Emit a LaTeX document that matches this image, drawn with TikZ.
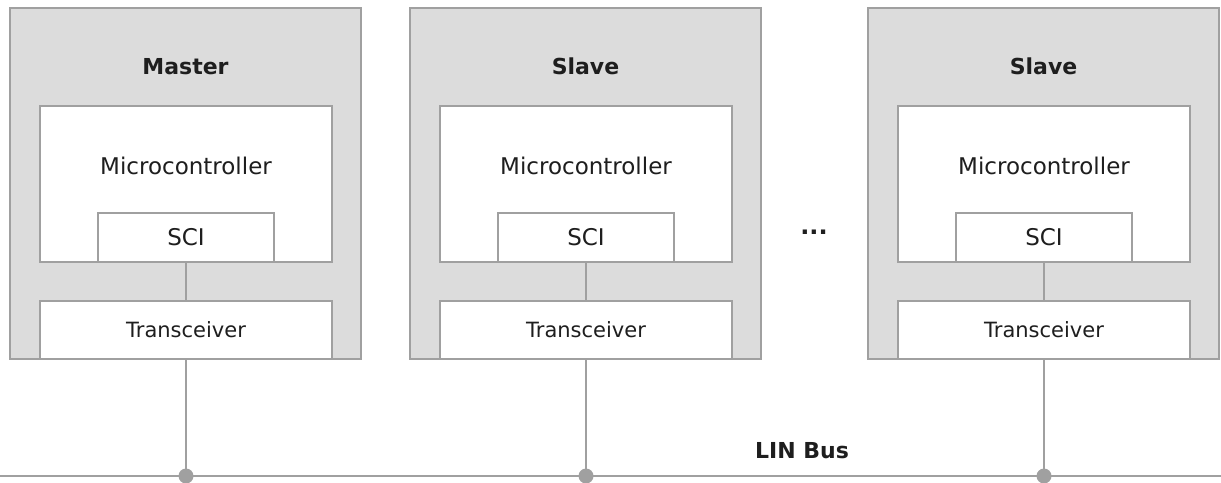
\documentclass[tikz,border=0pt]{standalone}
\usepackage{fontspec}
\setmainfont{DejaVu Sans}
\usetikzlibrary{positioning,calc}

\definecolor{boxgray}{HTML}{DCDCDC}
\definecolor{linegray}{HTML}{A0A0A0}
\definecolor{txt}{HTML}{1E1E1E}

\tikzset{
	unit/.style={draw=linegray, line width=0.9pt, fill=boxgray, minimum width=175.5pt, minimum height=175.5pt, inner sep=0pt},
	part/.style={draw=linegray, line width=0.9pt, fill=white, minimum width=146pt, inner sep=0pt},
	wire/.style={draw=linegray, line width=0.9pt},
	tap/.style={circle, fill=linegray, inner sep=0pt, minimum size=7.5pt},
	title/.style={font=\fontsize{11}{13}\selectfont\bfseries, text=txt, text height=8pt, text depth=0pt},
	caption/.style={font=\fontsize{11.5}{13}\selectfont, text=txt}
}

\begin{document}
\begin{tikzpicture}[x=0.5pt,y=-0.5pt]
		\useasboundingbox (0,0) rectangle (1221,482);
		\coordinate (busL) at (0,476);
		\coordinate (busR) at (1221,476);
		\draw [wire] (busL) -- (busR);
		\foreach \x/\n/\t in {185.5/m/Master, 585.5/sa/Slave, 1043.5/sb/Slave}
		{
			\node [unit] (\n) at (\x,183.5) {};
			\node [title] (\n-title) at (\x,66) {\t};
			\node [part, minimum height=78pt] (\n-mcu) at (\x+0.5,184) {};
			\node [caption] (\n-mcutext) at (\x+0.5,166) {Microcontroller};
			\node [part, minimum width=88pt, minimum height=24.5pt] (\n-sci) at (\x+0.5,237.5) {};
			\node [caption] at (\n-sci) {SCI};
			\node [part, minimum height=29pt, font=\fontsize{10.5}{12}\selectfont, text=txt] (\n-trx) at (\x+0.5,330) {Transceiver};
			\draw [wire] (\n-sci.south) -- (\n-trx.north);
			\node [tap] (\n-tap) at (\n-trx.south |- busL) {};
			\draw [wire] (\n-trx.south) -- (\n-tap.center);
		}
		\node [title, font=\fontsize{12}{13}\selectfont\bfseries] (dots) at (814,226) {...};
		\node [title] (bus) at (802,450) {LIN Bus};
\end{tikzpicture}
\end{document}
